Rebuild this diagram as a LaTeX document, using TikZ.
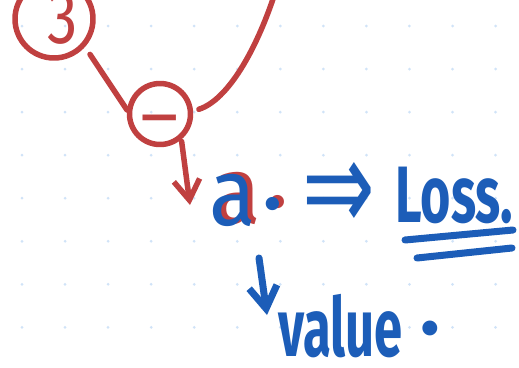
\documentclass[tikz,border=0pt]{standalone}
\usepackage{fontspec}
\setmainfont{Fira Sans}
\newfontfamily\symfont{DejaVu Sans}
\usetikzlibrary{arrows.meta}
\definecolor{penred}{HTML}{C04040}
\definecolor{penblue}{HTML}{1C5DB8}
\definecolor{griddot}{HTML}{D0E3F8}
\begin{document}
\begin{tikzpicture}[x=1pt,y=-1pt,
  redpen/.style={draw=penred, line width=5.5pt, line cap=round, line join=round},
  bluepen/.style={draw=penblue, line width=7pt, line cap=round, line join=round},
  opnode/.style={circle, redpen, inner sep=0pt, text=penred},
  hand/.style={inner sep=0pt},
  ]
\useasboundingbox (0,0) rectangle (519,367);
\fill[white] (0,0) rectangle (519,367);
\foreach \i in {0,...,11}
  \foreach \j in {0,...,7}
    \fill[griddot] ({22+43.05*\i},{26+43.05*\j}) circle (1.5pt);

% operator nodes
\node[opnode, minimum size=78pt] (c3) at (54,19) {};
\node[hand, text=penred, font=\fontsize{76}{76}\selectfont] (t3) at (63,18) {\scalebox{0.8}[1]{3}};
\node[opnode, minimum size=61pt, font=\fontsize{74}{74}\selectfont] (cm) at (160,114) {\raisebox{-15pt}[\height][\depth]{\scalebox{1.2}[1]{−}}};

% connectors
\coordinate (top) at (274,-4);
\coordinate (atip) at (190,205);
\draw[redpen, shorten <=9pt] (c3.-42) -- (cm.173);
\draw[redpen, shorten <=6pt] (cm.5) .. controls (228,100) and (256,50) .. (top);
\draw[redpen, shorten <=2pt, -{Straight Barb[length=20pt,width=26pt]}] (cm.-50) -- (atip);

% texts
\node[hand, text=penred, anchor=base west] (ared) at (214,223) {\fontsize{95}{95}\selectfont\scalebox{0.9}[1]{a}\kern6pt\raisebox{16pt}{.}};
\node[hand, text=penblue, anchor=base west] (a) at (209,225) {\fontsize{95}{95}\selectfont\scalebox{0.9}[1]{a}\kern6pt\raisebox{16pt}{.}};
\node[hand, text=penblue] (imp) at (339,197) {\symfont\fontsize{119}{119}\selectfont\scalebox{0.73}[1.1]{⇒}};
\node[hand, text=penblue, anchor=base west, font=\bfseries] (loss) at (395,222) {\fontsize{80}{80}\selectfont\scalebox{0.65}[1]{Loss.}};
\draw[bluepen] (405,240) -- (513,230);
\draw[bluepen] (417,258) -- (512,248);

\coordinate (v1) at (259,258);
\coordinate (v2) at (267,315);
\draw[bluepen, -{Straight Barb[length=22pt,width=28pt]}] (v1) -- (v2);
\node[hand, text=penblue, anchor=base west, font=\bfseries] (val) at (278,356) {\fontsize{82}{82}\selectfont\scalebox{0.62}[1]{value}\kern18pt\raisebox{22pt}{.}};
\end{tikzpicture}
\end{document}
